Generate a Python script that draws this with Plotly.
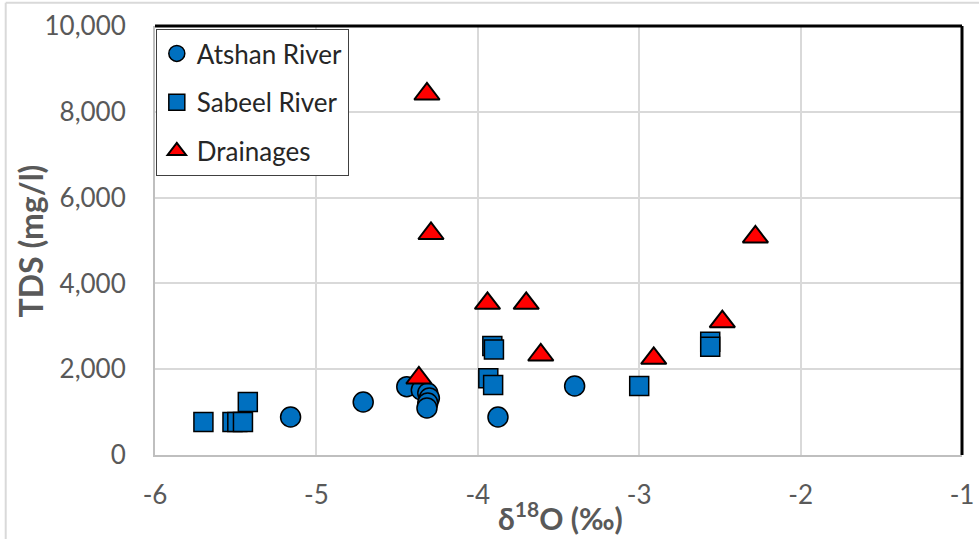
import plotly.graph_objects as go

# Atshan River
atshan_x = [-5.16, -4.71, -4.44, -4.35, -4.31, -4.30, -4.31, -4.315, -3.875, -3.40]
atshan_y = [886, 1235, 1592, 1515, 1445, 1329, 1212, 1096, 886, 1608]

# Sabeel River
sabeel_x = [-5.70, -5.52, -5.49, -5.455, -5.425, -3.91, -3.90, -3.935, -3.905, -3.00, -2.56, -2.56]
sabeel_y = [769, 769, 769, 769, 1235, 2540, 2460, 1788, 1632, 1608, 2640, 2524]

# Drainages
drain_x = [-4.315, -4.29, -3.94, -3.70, -3.61, -2.91, -2.485, -2.28, -4.365]
drain_y = [8415, 5163, 3536, 3536, 2331, 2254, 3107, 5082, 1795]

x_ticks = [-6, -5, -4, -3, -2, -1]
y_ticks = [0, 2000, 4000, 6000, 8000, 10000]

FONT = "Lato, 'Open Sans', sans-serif"
GRAY = "#595959"

fig = go.Figure()
fig.add_trace(go.Scatter(
    x=atshan_x, y=atshan_y, mode="markers", name="Atshan River", legendgroup="a",
    marker=dict(symbol="circle", size=20, color="#0070C0", line=dict(color="black", width=1.5))))
fig.add_trace(go.Scatter(
    x=sabeel_x, y=sabeel_y, mode="markers", name="Sabeel River", legendgroup="b",
    marker=dict(symbol="square", size=19, color="#0070C0", line=dict(color="black", width=1.5))))
fig.add_trace(go.Scatter(
    x=drain_x, y=drain_y, mode="markers", name="Drainages", legendgroup="c",
    marker=dict(symbol="triangle-up", size=22, color="#FF0000", line=dict(color="black", width=2))))

fig.update_layout(
    width=979, height=539,
    margin=dict(l=155, r=17, t=26, b=84),
    paper_bgcolor="white", plot_bgcolor="white",
    font=dict(family=FONT, color=GRAY, size=26),
    showlegend=True,
    legend=dict(x=0.001, y=0.993, xanchor="left", yanchor="top",
                bgcolor="white", bordercolor="#404040", borderwidth=1,
                font=dict(family=FONT, size=26, color="#262626"),
                tracegroupgap=12, itemsizing="trace"),
    xaxis=dict(range=[-6, -1], tickvals=x_ticks, ticktext=[str(v) for v in x_ticks],
               showgrid=True, gridcolor="#d9d9d9", gridwidth=2,
               showline=True, linecolor="#bfbfbf", linewidth=2,
               zeroline=False, ticks="", ticklabelstandoff=16, automargin=False,
               tickfont=dict(size=26, color=GRAY)),
    yaxis=dict(range=[0, 10000], tickvals=y_ticks, tickformat=",",
               showgrid=True, gridcolor="#d9d9d9", gridwidth=2,
               showline=True, linecolor="#bfbfbf", linewidth=2,
               zeroline=False, ticks="", ticklabelstandoff=22, automargin=False,
               tickfont=dict(size=26, color=GRAY)),
    annotations=[
        dict(text="<b>TDS (mg/l)</b>", textangle=-90, xref="paper", yref="paper",
             x=-0.1537, y=0.5, xanchor="center", yanchor="middle", showarrow=False,
             font=dict(size=32, color=GRAY, family=FONT)),
        dict(text="<b>δ<sup>18</sup>O (‰)</b>", xref="paper", yref="paper",
             x=0.503, y=-0.143, xanchor="center", yanchor="middle", showarrow=False,
             font=dict(size=30, color=GRAY, family=FONT)),
    ],
    shapes=[
        dict(type="line", xref="paper", yref="paper", x0=0, x1=1, y0=1, y1=1,
             line=dict(color="black", width=3)),
        dict(type="line", xref="paper", yref="paper", x0=1, x1=1, y0=0, y1=1,
             line=dict(color="black", width=3)),
        dict(type="line", xref="paper", yref="paper", x0=-0.185, x1=1.03, y0=1.054, y1=1.054,
             line=dict(color="#d9d9d9", width=2)),
        dict(type="line", xref="paper", yref="paper", x0=-0.185, x1=-0.185, y0=-0.2, y1=1.054,
             line=dict(color="#d9d9d9", width=2)),
    ],
)

fig.write_html("out.html")
